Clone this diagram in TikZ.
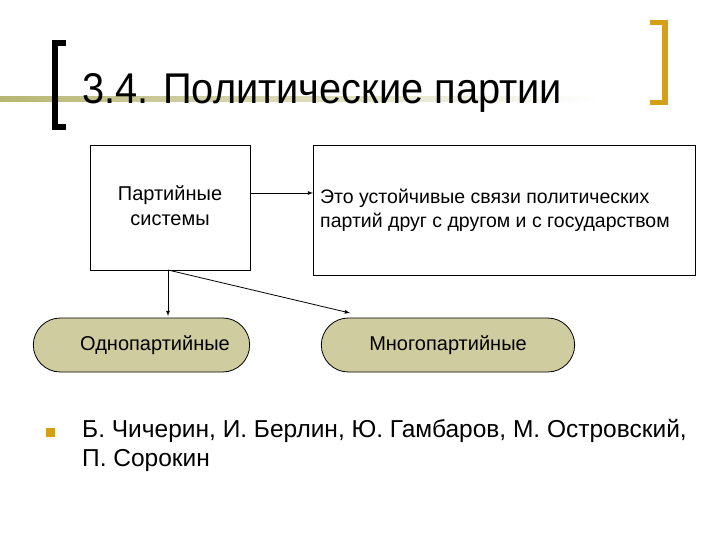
\documentclass[tikz,border=0pt]{standalone}
\usepackage{fontspec}
\setmainfont{Liberation Sans}
\usetikzlibrary{shapes.misc}
\definecolor{gold}{HTML}{D4A017}
\definecolor{olive}{HTML}{B8B673}
\definecolor{pill}{HTML}{CFCC9F}
\begin{document}
\begin{tikzpicture}[x=1pt,y=-1pt,
  box/.style={draw,line width=0.8pt,inner sep=0},
  pillbox/.style={draw,fill=pill,rounded rectangle,minimum width=#1,minimum height=54pt,font=\fontsize{20}{24}\selectfont,line width=0.8pt},
  arr/.style={-latex,line width=0.8pt}]
\useasboundingbox (0,0) rectangle (720,540);
\fill[white] (0,0) rectangle (720,540);
% olive gradient line
\shade[left color=olive,right color=white] (0,97) rectangle (600,102);
% brackets
\fill[black] (52,40) rectangle (58,130);
\fill[black] (52,40) rectangle (66,46);
\fill[black] (52,124) rectangle (66,130);
\fill[gold] (662,20) rectangle (668,105);
\fill[gold] (650,20) rectangle (668,25);
\fill[gold] (650,100) rectangle (668,105);
\node[anchor=base west,inner sep=0,xscale=0.925,font=\fontsize{43}{48}\selectfont] (title) at (82,104) {3.4. Политические партии};
% boxes
\node[box,minimum width=160pt,minimum height=125pt,anchor=north west] (b1) at (90,145) {};
\node[align=center,font=\fontsize{20}{25}\selectfont] (t1) at (170,206) {Партийные\\системы};
\node[box,minimum width=382pt,minimum height=130pt,anchor=north west] (b2) at (313,145) {};
\node[align=left,anchor=west,inner sep=0,font=\fontsize{19.5}{24}\selectfont] (t2) at (320,210) {Это устойчивые связи политических\\партий друг с другом и с государством};
\node[pillbox=223pt] (p1) at (141.5,345) {};
\node[font=\fontsize{20}{24}\selectfont] (p1t) at (155,345) {Однопартийные};
\node[pillbox=260pt] (p2) at (448,345) {Многопартийные};
\coordinate (c) at (168,270);
\coordinate (e1) at (168,316);
\coordinate (e2) at (350,313);
\draw[arr] (b1.east |- 0,193) -- (b2.west |- 0,193);
\draw[arr] (c) -- (e1);
\draw[arr] (c) -- (e2);
% bullet
\fill[gold] (46,428) rectangle (55,437);
\node[anchor=north west,align=left,inner sep=0,font=\fontsize{24.5}{29}\selectfont] (bt) at (82,419) {Б. Чичерин, И. Берлин, Ю. Гамбаров, М. Островский,\\П. Сорокин};
\end{tikzpicture}
\end{document}
